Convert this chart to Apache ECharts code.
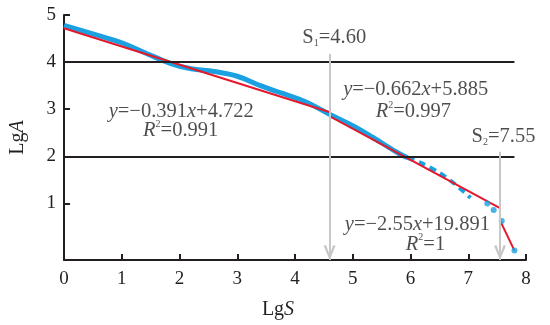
<!DOCTYPE html>
<html>
<head>
<meta charset="utf-8">
<script src="https://cdn.jsdelivr.net/npm/echarts@6/dist/echarts.min.js"></script>
<style>
  html, body { margin: 0; padding: 0; background: #fff; }
  #chart { width: 550px; height: 325px; }
</style>
</head>
<body>
<div id="chart"></div>
<script>
// measured curve (LgS, LgA)
var curveData = [
  [0, 4.78], [0.5, 4.6], [1.0, 4.41], [1.4, 4.2], [1.85, 3.97], [2.2, 3.86],
  [2.6, 3.8], [3.0, 3.7], [3.4, 3.5], [3.8, 3.33], [4.2, 3.15], [4.65, 2.86],
  [5.0, 2.65], [5.35, 2.4], [5.8, 2.06], [5.95, 1.97]
];
var tailDashed = [[5.95, 1.97], [6.2, 1.85], [6.5, 1.65], [6.75, 1.43], [7.04, 1.12]];
var tailDots = [[7.33, 1.0], [7.44, 0.86], [7.58, 0.63], [7.8, 0.0]];

// fitted segments
var fit1 = [[0, 4.72], [4.62, 2.93]];
var fit2 = [[4.62, 2.84], [7.55, 0.9]];
var fit3 = [[7.55, 0.64], [7.8, 0.0]];

// reference lines
var hLines = [4, 2];
var hLineEnd = 7.8;
var breakX = [4.6, 7.55];
var breakTop = [4.17, 2.1];

var yTicks = [1, 2, 3, 4, 5];

// annotations
var noteText = [
  '{i|y}=−0.391{i|x}+4.722', '{i|R}{sup|2}=0.991',
  '{i|y}=−0.662{i|x}+5.885', '{i|R}{sup|2}=0.997',
  '{i|y}=−2.55{i|x}+19.891', '{i|R}{sup|2}=1',
  'S{sub|1}=4.60', 'S{sub|2}=7.55'
];
var noteX = [2.03, 2.02, 6.09, 6.05, 6.12, 6.26, 4.68, 7.61];
var noteY = [2.94, 2.54, 3.42, 2.94, 0.55, 0.13, 4.52, 2.42];

var ink = '#231f20';
var blue = '#1ba1e2';
var red = '#e5192c';
var grey = '#c8c8c8';
var font = 'Liberation Serif';
var noteSize = 20.5;

var rich = {
  i: { fontStyle: 'italic', fontFamily: font, fontSize: noteSize, color: ink },
  sup: { fontFamily: font, fontSize: 10, color: ink, verticalAlign: 'top', lineHeight: 24 },
  sub: { fontFamily: font, fontSize: 10, color: ink, verticalAlign: 'bottom', lineHeight: 14 }
};

// open arrow head (chevron); the extra point above the tip centres the box on the tip
var chevron = 'path://M0,12 L5,0 L10,12 L8,12.6 L5,4.5 L2,12.6 Z M5,-12.6 L5.01,-12.6';

var chart = echarts.init(document.getElementById('chart'));

chart.setOption({
  animation: false,
  backgroundColor: '#fff',
  grid: { left: 58, right: 24, top: 15, bottom: 63 },
  xAxis: {
    type: 'value',
    min: 0,
    max: 8,
    interval: 1,
    name: 'Lg{i|S}',
    nameLocation: 'middle',
    nameGap: 40,
    nameTextStyle: {
      fontFamily: font, fontSize: 20, color: ink, padding: [0, 34, 0, 0],
      rich: { i: { fontStyle: 'italic', fontFamily: font, fontSize: 20, color: ink } }
    },
    axisLine: { onZero: false, lineStyle: { color: ink, width: 2 } },
    axisTick: { inside: true, length: 6, lineStyle: { color: ink, width: 2 } },
    axisLabel: { fontFamily: font, fontSize: 19, color: ink, margin: 10 },
    splitLine: { show: false }
  },
  yAxis: {
    type: 'value',
    min: -0.2,
    max: 5,
    name: 'Lg{i|A}',
    nameLocation: 'middle',
    nameGap: 36,
    nameRotate: 90,
    nameTextStyle: {
      fontFamily: font, fontSize: 20, color: ink,
      rich: { i: { fontStyle: 'italic', fontFamily: font, fontSize: 20, color: ink } }
    },
    axisLine: { onZero: false, lineStyle: { color: ink, width: 2 } },
    axisTick: { inside: true, length: 6, customValues: yTicks, lineStyle: { color: ink, width: 2 } },
    axisLabel: { customValues: yTicks, fontFamily: font, fontSize: 19, color: ink, margin: 8 },
    splitLine: { show: false }
  },
  series: [
    {
      type: 'line',
      data: curveData,
      smooth: 0.4,
      showSymbol: false,
      lineStyle: { color: blue, width: 5 },
      z: 2,
      markLine: {
        silent: true,
        symbol: ['none', 'none'],
        label: { show: false },
        lineStyle: { color: ink, width: 2, type: 'solid' },
        data: hLines.map(function (v) {
          return [{ coord: [0, v] }, { coord: [hLineEnd, v] }];
        })
      }
    },
    {
      type: 'line',
      data: tailDashed,
      smooth: 0.3,
      showSymbol: false,
      lineStyle: { color: blue, width: 4, type: [7, 5] },
      z: 2
    },
    {
      type: 'scatter',
      data: tailDots,
      symbolSize: 6,
      itemStyle: { color: blue },
      z: 4
    },
    {
      type: 'line', data: fit1, showSymbol: false,
      lineStyle: { color: red, width: 2 }, z: 3
    },
    {
      type: 'line', data: fit2, showSymbol: false,
      lineStyle: { color: red, width: 2 }, z: 3
    },
    {
      type: 'line', data: fit3, showSymbol: false,
      lineStyle: { color: red, width: 2 }, z: 3
    },
    {
      // break-point arrows, drawn over the curves
      type: 'line',
      data: [],
      z: 6,
      markLine: {
        silent: true,
        symbol: ['none', chevron],
        symbolSize: [12, 30],
        label: { show: false },
        lineStyle: { color: grey, width: 2, type: 'solid' },
        data: breakX.map(function (v, i) {
          return [{ coord: [v, breakTop[i]] }, { coord: [v, -0.2] }];
        })
      }
    },
    {
      type: 'scatter',
      data: noteX.map(function (v, i) { return [v, noteY[i]]; }),
      symbolSize: 0,
      silent: true,
      z: 7,
      label: {
        show: true,
        position: 'inside',
        fontFamily: font,
        fontSize: noteSize,
        color: ink,
        formatter: function (p) { return noteText[p.dataIndex]; },
        rich: rich
      }
    }
  ]
});
</script>
</body>
</html>
